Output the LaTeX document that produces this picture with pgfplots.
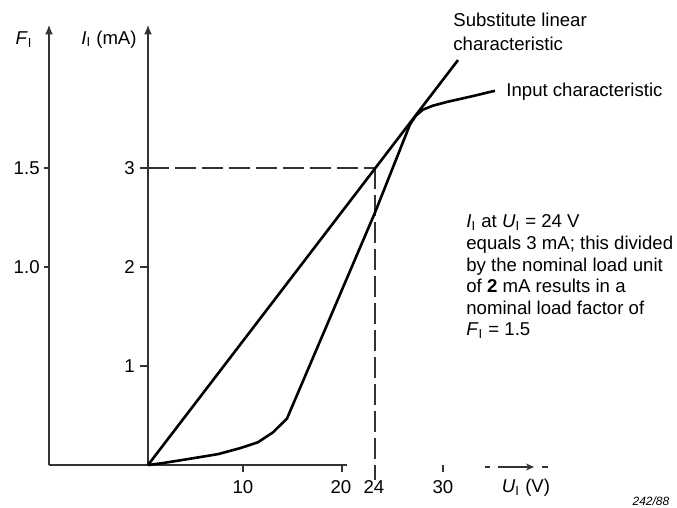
\documentclass[border=0pt]{standalone}
\usepackage{fontspec}
\setmainfont{Liberation Sans}
\usepackage{pgfplots}
\pgfplotsset{compat=1.18}
\usetikzlibrary{arrows.meta}

% input characteristic of the binary input, U_I (V) against I_I (mA)
\pgfplotstableread{
U     I
0     0
1.5   0.02
4     0.06
7     0.11
9.2   0.17
11    0.23
12.5  0.33
13.9  0.47
22.7  2.55
26.2  3.44
26.8  3.53
27.5  3.59
28.5  3.63
30    3.67
32.2  3.72
34.7  3.78
}\inputchar

\begin{document}
\begin{tikzpicture}[
  lbl/.style={font=\fontsize{9.3}{10.8}\selectfont, inner sep=0pt},
  axln/.style={line width=1pt, black!80},
  refdash/.style={line width=1pt, black!80, dash pattern=on 10.5pt off 3pt},
]
\begin{axis}[
  scale only axis, width=338.5pt, height=253.5pt,
  xmin=-14.8, xmax=52.9, ymin=-0.424, ymax=4.697,
  hide axis, clip=false,
]
\path (rel axis cs:0,0) rectangle (rel axis cs:1,1);

% axes
\draw[axln, -{Latex[length=5pt,width=4pt]}] (axis cs:0,0) -- (axis cs:0,4.45);
\draw[axln, -{Latex[length=5pt,width=4pt]}] (axis cs:-9.9,0) -- (axis cs:-9.9,4.45);
\draw[axln] (axis cs:-9.9,0) -- (axis cs:19.9,0);
\draw[axln] (axis cs:33.7,-0.02) -- (axis cs:34.2,-0.02);
\draw[line width=0.8pt, black!80, -{Stealth[length=4pt,width=3.5pt]}] (axis cs:35,-0.02) -- (axis cs:38.6,-0.02);
\draw[axln] (axis cs:39.4,-0.02) -- (axis cs:40,-0.02);

% ticks
\draw[axln] (axis cs:9.5,0) -- (axis cs:9.5,-0.07);
\draw[axln] (axis cs:19.4,0) -- (axis cs:19.4,-0.07);
\draw[axln] (axis cs:29.5,0) -- (axis cs:29.5,-0.07);
\draw[axln] (axis cs:-0.8,1) -- (axis cs:0,1);
\draw[axln] (axis cs:-0.8,2) -- (axis cs:0,2);
\draw[axln] (axis cs:-0.8,3) -- (axis cs:0,3);
\draw[axln] (axis cs:-10.4,2) -- (axis cs:-9.9,2);
\draw[axln] (axis cs:-10.4,3) -- (axis cs:-9.9,3);

% tick labels
\node[lbl] at (axis cs:9.5,-0.22) {10};
\node[lbl] at (axis cs:19.3,-0.22) {20};
\node[lbl] at (axis cs:22.6,-0.22) {24};
\node[lbl] at (axis cs:29.5,-0.22) {30};
\node[lbl, anchor=east] at (axis cs:-1.3,3) {3};
\node[lbl, anchor=east] at (axis cs:-1.3,2) {2};
\node[lbl, anchor=east] at (axis cs:-1.3,1) {1};
\node[lbl, anchor=east] at (axis cs:-10.8,3) {1.5};
\node[lbl, anchor=east] at (axis cs:-10.8,2) {1.0};

% axis labels
\node[lbl, anchor=east] at (axis cs:-11.5,4.30) {\textit{F}\textsubscript{I}};
\node[lbl, anchor=east] at (axis cs:-1.1,4.30) {\textit{I}\textsubscript{I} (mA)};
\node[lbl] at (axis cs:37.8,-0.23) {\textit{U}\textsubscript{I} (V)};

% reference lines at 24 V / 3 mA
\draw[refdash] (axis cs:0,3) -- (axis cs:22.8,3);
\draw[refdash] (axis cs:22.7,3) -- (axis cs:22.7,-0.15);

% curves
\addplot[black, line width=1.3pt, line join=round] coordinates {(0,0) (31.0,4.09)};
\addplot[black, line width=1.3pt, line join=round] table[x=U, y=I] {\inputchar};

% annotations
\node[lbl, anchor=north west, align=left, font=\fontsize{9.3}{12}\selectfont]
  at (axis cs:30.5,4.57) {Substitute linear\\characteristic};
\node[lbl, anchor=west] at (axis cs:35.8,3.77) {Input characteristic};
\node[lbl, anchor=north west, align=left] at (axis cs:31.8,2.53)
  {\textit{I}\textsubscript{I} at \textit{U}\textsubscript{I} = 24 V\\
   equals 3 mA; this divided\\
   by the nominal load unit\\
   of \textbf{2} mA results in a\\
   nominal load factor of\\
   \textit{F}\textsubscript{I} = 1.5};
\node[inner sep=0pt, font=\fontsize{6}{7}\selectfont\itshape] at (axis cs:50.3,-0.37) {242/88};
\end{axis}
\end{tikzpicture}
\end{document}
